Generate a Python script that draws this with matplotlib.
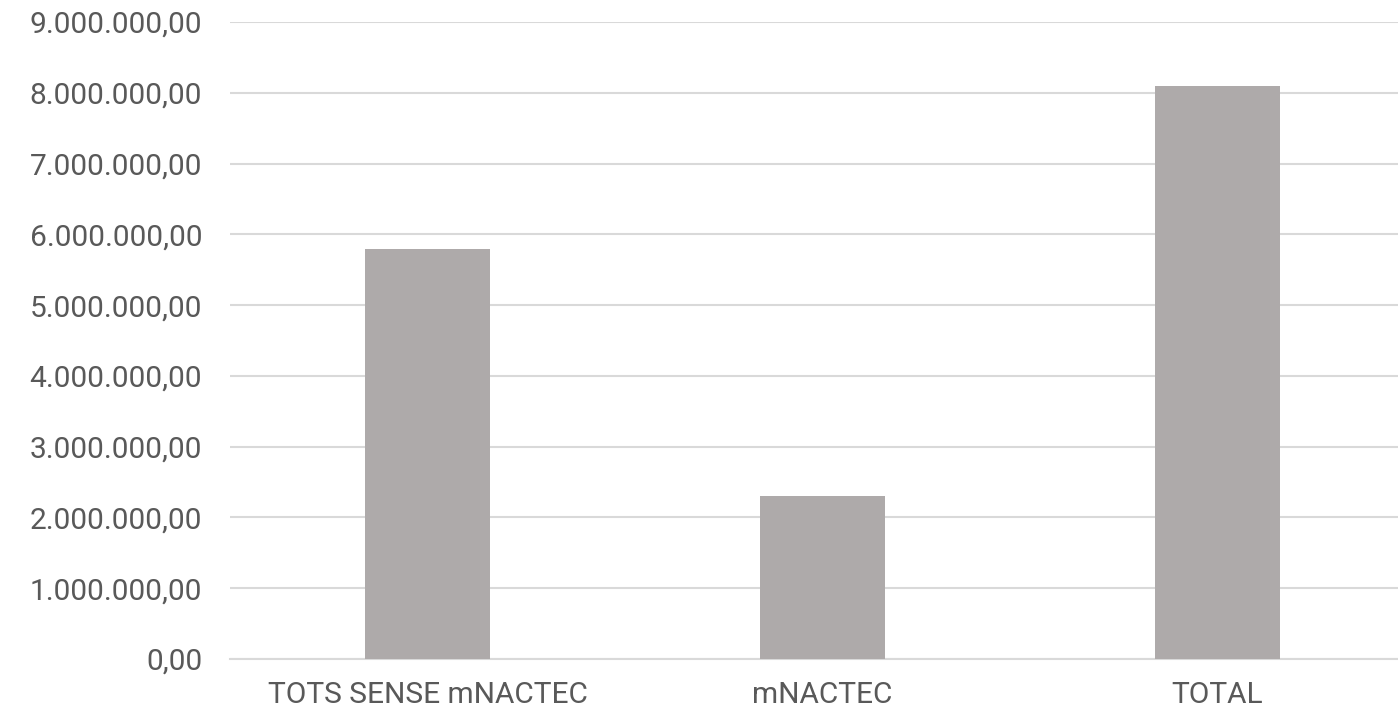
import matplotlib
matplotlib.use("Agg")
import matplotlib.pyplot as plt
from matplotlib.ticker import FuncFormatter

categories = ["TOTS SENSE mNACTEC", "mNACTEC", "TOTAL"]
values = [5790000, 2300000, 8090000]
y_ticks = [i * 1000000 for i in range(10)]

plt.rcParams['font.family'] = ['Roboto', 'DejaVu Sans']

W, H = 1398, 708
fig = plt.figure(figsize=(W / 100, H / 100), dpi=100)
# axes extends a bit past the right edge like the original crop
ax = fig.add_axes([230 / W, 49 / H, 1185 / W, 637 / H])

x = range(len(categories))
ax.bar(x, values, width=0.314, color="#AEAAAA", zorder=3)

ax.set_xlim(-0.5, len(categories) - 0.5)
ax.set_ylim(0, 9000000)
ax.set_yticks(y_ticks)


def fmt(v, pos):
    s = f"{v:,.2f}"
    return s.replace(",", "X").replace(".", ",").replace("X", ".")


ax.yaxis.set_major_formatter(FuncFormatter(fmt))
ax.set_xticks(list(x))
ax.set_xticklabels(categories)

ax.grid(axis="y", color="#D9D9D9", linewidth=1.5, zorder=0)
for s in ["top", "right", "left"]:
    ax.spines[s].set_visible(False)
ax.spines["bottom"].set_color("#D9D9D9")
ax.spines["bottom"].set_linewidth(1.5)
ax.tick_params(axis="both", length=0, labelcolor="#595959", labelsize=21.5)
ax.tick_params(axis="y", pad=20)
ax.tick_params(axis="x", pad=16)

fig.savefig("out.png", dpi=100)
